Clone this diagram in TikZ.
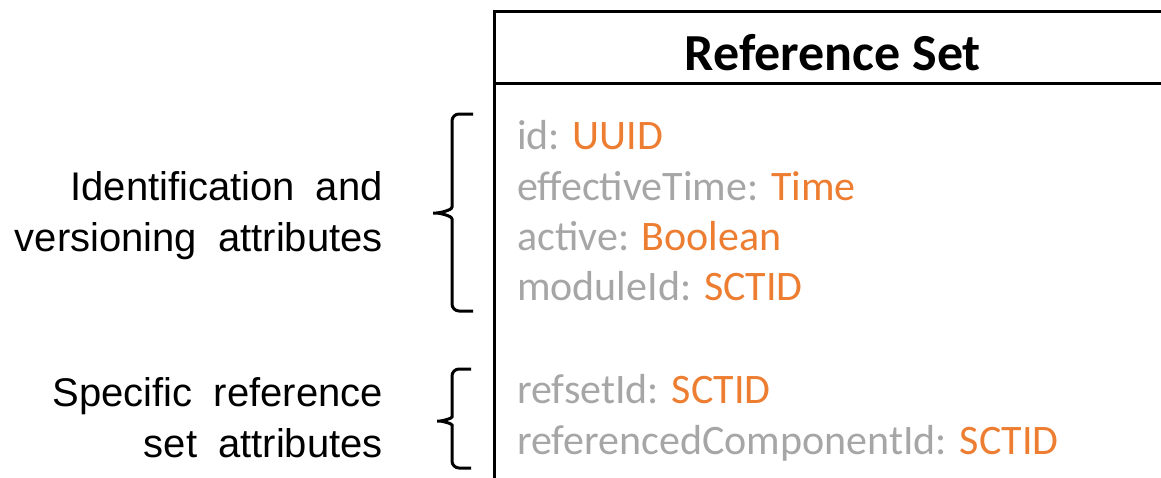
\documentclass[tikz,border=0pt]{standalone}
\usepackage{fontspec}
\setmainfont{Carlito}
\newfontfamily\arialfont{Liberation Sans}
\usetikzlibrary{positioning}
\definecolor{attrgray}{RGB}{166,166,166}
\definecolor{typeorange}{RGB}{237,125,49}
\newcommand\wide{\spaceskip=21pt\relax}
\tikzset{
  cls/.style={draw,line width=3pt},
  head/.style={font=\fontsize{52}{56}\selectfont\bfseries,anchor=base,inner sep=0},
  attr/.style={font=\fontsize{42}{48}\selectfont,text=attrgray,anchor=base west,inner sep=0},
  grp/.style={font=\arialfont\fontsize{40}{50.5}\selectfont\wide,align=right,anchor=base east,inner sep=0},
  brc/.style={draw,line width=3pt,rounded corners=7pt}
}

\begin{document}
\begin{tikzpicture}[x=1pt,y=-1pt]
\useasboundingbox (0,0) rectangle (1161,477);
\clip (0,0) rectangle (1161,477);
% class box, runs off the right and bottom edge
\coordinate (tl) at (494,11);
\coordinate (br) at (1175,495);
\draw[cls] (tl) rectangle (br);
\draw[cls] (494,83) -- (1175,83);
\node[head] (title) at (833,70) {Reference Set};
\foreach \n/\t/\y [count=\i] in {id/UUID/149,effectiveTime/Time/200,active/Boolean/250,moduleId/SCTID/300,refsetId/SCTID/403,referencedComponentId/SCTID/454}
  \node[attr] (a\i) at (517,\y) {\n: \textcolor{typeorange}{\t}};
% braces
\draw[brc] (473,114) -| (452,200) to[out=-90,in=0] (429,213) to[out=0,in=90] (452,226) |- (473,311);
\draw[brc] (471,369) -| (452,410) to[out=-90,in=0] (433,421) to[out=0,in=90] (452,432) |- (471,468);
\node[grp] (idv) at (383,251) {Identification and\\versioning attributes};
\node[grp] (spec) at (383,457) {Specific reference\\set attributes};
\end{tikzpicture}
\end{document}
